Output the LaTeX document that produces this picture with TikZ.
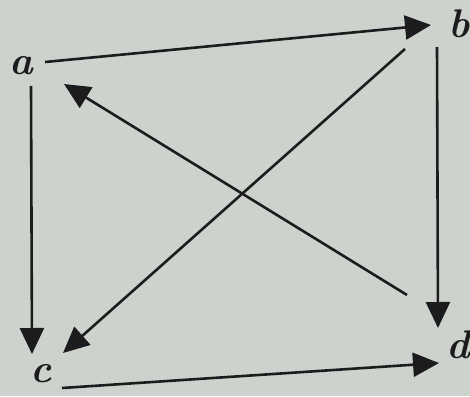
\documentclass[tikz,border=0pt]{standalone}
\usetikzlibrary{arrows.meta}
\definecolor{paper}{RGB}{206,210,204}
\definecolor{ink}{RGB}{28,28,30}
\begin{document}
\begin{tikzpicture}[x=0.5pt,y=-0.5pt,
  lbl/.style={inner sep=0pt, text=ink, font=\fontsize{20}{22}\selectfont\bfseries\itshape},
  conn/.style={draw=ink, line width=1.3pt, -{Triangle[length=13pt,width=12pt]}}]
\fill[paper] (0,0) rectangle (470,396);
\useasboundingbox (0,0) rectangle (470,396);
\node[lbl] (a) at (21,66) {a};
\node[lbl] (b) at (459,24) {b};
\node[lbl] (c) at (41,374) {c};
\node[lbl] (d) at (458,345) {d};
% connector end points
\coordinate (ab1) at (45,62);  \coordinate (ab2) at (431,25);
\coordinate (bd1) at (437,47); \coordinate (bd2) at (438,328);
\coordinate (ac1) at (31,86);  \coordinate (ac2) at (32,354);
\coordinate (cd1) at (62,388); \coordinate (cd2) at (439,363);
\coordinate (bc1) at (405,49); \coordinate (bc2) at (63,353);
\coordinate (da1) at (407,295); \coordinate (da2) at (64,84);
\draw[conn] (ab1) -- (ab2);
\draw[conn] (bd1) -- (bd2);
\draw[conn] (ac1) -- (ac2);
\draw[conn] (cd1) -- (cd2);
\draw[conn] (bc1) -- (bc2);
\draw[conn] (da1) -- (da2);
\end{tikzpicture}
\end{document}
